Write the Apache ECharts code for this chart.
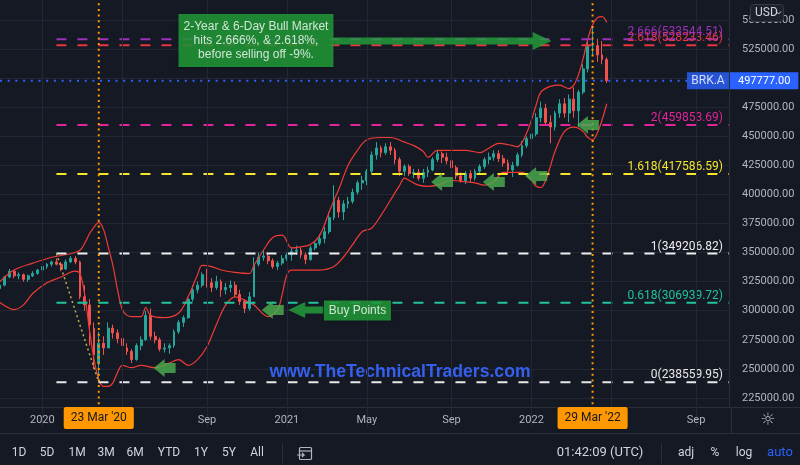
<!DOCTYPE html>
<html><head><meta charset="utf-8">
<script src="https://cdn.jsdelivr.net/npm/echarts@6/dist/echarts.min.js"></script>
<style>html,body{margin:0;padding:0;background:#151924;}#c{width:800px;height:465px;}</style>
</head><body><div id="c"></div>
<script>
// ---- axis categories (weekly, Monday dates) ----
const startMonday = '2019-10-28';
const weekCount = 156;
const monthNames = ['Jan','Feb','Mar','Apr','May','Jun','Jul','Aug','Sep','Oct','Nov','Dec'];
const labelMonths = [0, 4, 8];

// ---- weekly BRK.A candles, values in thousands USD (weeks 0..129) ----
const openK  = [319,322,329,334,330,331,327,330,332,335,338,340,342,340,336,342,345,342,312,305,285,255,272,268,285,281,276,268,265,258,270,275,296,278,275,267,268,270,282,290,294,310,318,322,331,324,320,325,318,320,322,314,308,302,312,340,346,347,343,338,341,345,348,351,352,348,344,354,358,362,368,380,395,385,392,394,402,410,412,420,434,440,436,441,438,430,420,424,418,419,414,419,421,430,435,432,429,423,416,412,418,414,420,424,430,432,435,431,427,421,425,434,442,448,452,466,474,462,458,470,478,470,482,472,488,508,528,528,520,516];
const highK  = [323,330,336,335,333,332,331,334,336,341,341,343,345,342,344,347,347,343,322,310,290,282,278,290,288,284,289,272,267,272,278,300,302,282,277,272,272,284,292,296,312,322,325,333,336,328,330,327,324,326,325,318,310,316,346,350,352,350,345,343,348,350,354,356,354,350,356,360,366,372,385,408,398,395,398,405,412,416,422,437,445,442,444,445,440,432,426,426,422,422,422,424,432,438,437,436,431,425,419,420,421,422,426,432,436,438,438,434,430,428,436,446,450,456,470,480,478,468,472,482,483,486,492,490,512,532,544,534,532,518];
const lowK   = [317,321,328,328,327,325,325,329,331,333,336,338,339,334,335,341,340,310,300,270,250,238.56,262,268,276,272,268,262,255,257,266,274,275,272,265,264,263,268,280,286,293,308,315,320,320,316,318,312,314,316,312,305,298,300,312,338,343,340,336,335,339,343,343,348,345,340,343,352,356,358,366,378,380,378,388,392,400,404,408,418,430,432,434,434,426,416,416,416,414,412,410,415,420,428,427,426,420,413,410,409,410,412,418,422,426,429,428,424,417,415,424,432,440,446,450,462,460,444,455,466,466,462,466,458,486,505,520,514,512,496];
const closeK = [322,329,334,330,331,327,330,332,335,338,340,342,340,336,342,345,342,312,305,288,262,272,268,285,281,276,270,265,258,270,275,296,278,275,267,268,270,282,290,294,310,318,322,331,324,320,325,318,320,322,314,308,302,312,340,346,347,343,338,341,345,348,351,352,348,344,354,358,362,368,380,395,385,392,394,402,410,412,420,434,440,436,441,438,430,420,424,418,419,414,419,421,430,435,432,429,423,416,412,418,414,420,424,430,432,435,431,427,421,425,434,442,448,452,466,474,462,458,470,478,470,482,472,488,508,528,528,520,516,497.777];

// ---- Bollinger bands, read at sample weeks (thousands USD) ----
const upperWeeks = ['2019-10-28','2019-11-18','2019-12-16','2020-01-13','2020-02-10','2020-02-24','2020-03-02','2020-03-09','2020-03-16','2020-03-23','2020-03-30','2020-04-06','2020-04-13','2020-04-20','2020-04-27','2020-05-04','2020-05-11','2020-05-25','2020-06-01','2020-06-08','2020-06-29','2020-07-20','2020-08-03','2020-08-17','2020-08-24','2020-09-07','2020-09-21','2020-10-12','2020-11-02','2020-11-09','2020-11-23','2020-12-07','2020-12-21','2021-01-04','2021-01-18','2021-02-01','2021-02-15','2021-03-01','2021-03-08','2021-03-15','2021-03-29','2021-04-12','2021-04-26','2021-05-17','2021-05-31','2021-06-21','2021-07-05','2021-07-19','2021-07-26','2021-08-09','2021-08-30','2021-09-20','2021-10-11','2021-10-25','2021-11-08','2021-11-29','2021-12-06','2021-12-20','2022-01-03','2022-01-10','2022-01-24','2022-02-07','2022-02-21','2022-02-28','2022-03-07','2022-03-14','2022-03-21','2022-03-28','2022-04-04','2022-04-11','2022-04-18'];
const upperK = [325,335,341,346,349,352,358,366,372,376,370,355,339,318,301,296,295,295,303,296,294,298,312,331,339,338,335,333,332,339,352,363,365,354,355,357,365,385,395,404,425,438,447,449,449,445,442,437,432,438,438,438,436,440,444,442,441,453,477,488,493,494,491,494,503,517,534,546,552,553,548];
const lowerWeeks = ['2019-10-28','2019-11-18','2019-12-02','2019-12-16','2020-01-06','2020-01-27','2020-02-17','2020-02-24','2020-03-02','2020-03-09','2020-03-16','2020-03-23','2020-03-30','2020-04-06','2020-04-13','2020-04-20','2020-04-27','2020-05-11','2020-05-25','2020-06-15','2020-07-06','2020-07-20','2020-08-03','2020-08-17','2020-08-31','2020-09-14','2020-09-28','2020-10-12','2020-10-26','2020-11-09','2020-11-23','2020-11-30','2020-12-14','2020-12-21','2020-12-28','2021-01-04','2021-01-25','2021-02-15','2021-03-08','2021-03-22','2021-04-05','2021-04-19','2021-05-03','2021-05-17','2021-05-31','2021-06-14','2021-06-21','2021-06-28','2021-07-12','2021-07-26','2021-08-09','2021-08-30','2021-09-20','2021-10-04','2021-10-18','2021-11-01','2021-11-15','2021-11-29','2021-12-13','2021-12-27','2022-01-03','2022-01-10','2022-01-17','2022-01-24','2022-01-31','2022-02-14','2022-02-28','2022-03-07','2022-03-14','2022-03-21','2022-03-28','2022-04-04','2022-04-11','2022-04-18'];
const lowerK = [307,301,305,315,324,329,334,332,314,284,258,241,235,235,238,247,253,251,253,251,255,258,253,258,269,288,305,312,309,305,297,295,301,314,331,335,335,335,338,346,357,368,371,382,395,408,414,412,408,407,408,412,411,410,408,411,419,419,419,412,407,406,412,424,437,454,458,457,454,449,447,453,464,478];

// ---- Fibonacci levels ----
const fibRatios = ['0','0.618','1','1.618','2','2.618','2.666'];
const fibPrices = [238559.95,306939.72,349206.82,417586.59,459853.69,528233.46,533544.51];
const fibColors = ['#e8e8e8','#22c39c','#eeeeee','#f7e52c','#e2259a','#e8353f','#9c30bb'];
const fibStartWeek = '2020-01-20';
const lastPrice = 497777;
const symbolName = 'BRK.A';
const crosshairWeeks = ['2020-03-23','2022-03-28'];
const crosshairText = ["23 Mar '20","29 Mar '22"];

// ---- annotations ----
const buyArrowWeeks = ['2020-06-29','2020-12-07','2021-08-16','2021-11-01','2022-01-03','2022-03-21'];
const buyArrowPrices = [250800,300660,410717,410717,415876,459725];

// build categories
const weeks = [];
(function(){const d0=Date.parse(startMonday+'T00:00:00Z');for(let i=0;i<weekCount;i++){weeks.push(new Date(d0+i*7*86400000).toISOString().slice(0,10));}})();
const firstWeek = weeks[0], lastWeek = weeks[weeks.length-1];
function sundayOf(v){return new Date(Date.parse(v+'T00:00:00Z')+6*86400000);}
function isLabelWeek(i){const s=sundayOf(weeks[i]);return s.getUTCDate()<=7 && labelMonths.indexOf(s.getUTCMonth())>=0;}
function labelText(v){const s=sundayOf(v);const m=s.getUTCMonth();return m===0?String(s.getUTCFullYear()):monthNames[m];}

const candleData = openK.map((o,k)=>[o*1000, closeK[k]*1000, lowK[k]*1000, highK[k]*1000]);
const upperData = upperWeeks.map((w,k)=>[w, upperK[k]*1000]);
const lowerData = lowerWeeks.map((w,k)=>[w, lowerK[k]*1000]);

const series = [
  {type:'candlestick',name:'BRK.A',data:candleData,barMaxWidth:2.5,clip:false,z:2,
    itemStyle:{color:'#26a69a',color0:'#ef5350',borderColor:'#26a69a',borderColor0:'#ef5350',borderWidth:1}},
  {type:'line',name:'BB upper',data:upperData,smooth:0.35,connectNulls:true,showSymbol:false,symbol:'none',z:3,
    lineStyle:{color:'#ef3b36',width:1.2}},
  {type:'line',name:'BB lower',data:lowerData,smooth:0.35,connectNulls:true,showSymbol:false,symbol:'none',z:3,
    lineStyle:{color:'#ef3b36',width:1.2}}
];
const hiddenDot = {symbol:'circle',symbolSize:0,showSymbol:true,itemStyle:{color:'rgba(0,0,0,0)'}};

// Fibonacci level lines with their labels at the right end
fibPrices.forEach((p,k)=>{
  series.push(Object.assign({type:'line',name:'fib '+fibRatios[k],z:4,clip:false,silent:true,
    lineStyle:{color:fibColors[k],width:2,type:[10,11]},
    data:[[fibStartWeek,p],{value:[lastWeek,p],label:{show:true,position:[0,0],align:'right',verticalAlign:'bottom',offset:[-6,-1],
      formatter:fibRatios[k]+'('+p.toFixed(2)+')',color:fibColors[k],fontSize:12,fontFamily:'Roboto'}}]}, hiddenDot));
});
// last price line + axis price box
series.push(Object.assign({type:'line',name:'last',z:4,clip:false,silent:true,
  lineStyle:{color:'#2962ff',width:2,type:[2,5.7]},
  data:[[firstWeek,lastPrice],{value:[lastWeek,lastPrice],label:{show:true,position:[0,0],align:'left',verticalAlign:'middle',offset:[1,0],
    formatter:lastPrice.toFixed(2),backgroundColor:'#2962ff',color:'#ffffff',padding:[3,8,3,8],fontSize:11,fontFamily:'Roboto'}}]}, hiddenDot));
// crosshair vertical lines
crosshairWeeks.forEach(w=>series.push({type:'line',name:'cross '+w,z:4,clip:false,silent:true,symbol:'none',
  lineStyle:{color:'#ff9800',width:2,type:[2,3.7]},data:[[w,200000],[w,575000]]}));
// fib trend line (high -> low)
series.push({type:'line',name:'fib trend',z:4,silent:true,symbol:'none',
  lineStyle:{color:'#bba84c',width:1.5,type:[2,3]},data:[[fibStartWeek,fibPrices[2]],[crosshairWeeks[0],fibPrices[0]]]});

// annotations (arrows, callouts, symbol tag) on their own layer
const smallArrow='path://M0,9L11,0L11,4L22,4L22,14L11,14L11,18Z';
const ann = buyArrowWeeks.map((w,k)=>({value:[w,buyArrowPrices[k]],symbol:smallArrow,symbolSize:[22,18],itemStyle:{color:'#4caf50'}}));
ann.push({value:['2021-08-16',531949],symbol:'path://M0,5.5L200,5.5L200,0L219,9L200,18L200,12.5L0,12.5Z',symbolSize:[219,18],itemStyle:{color:'#23a23b'}});
ann.push({value:['2021-01-25',300660],symbol:'path://M0,8L17,0L17,4.5L35,4.5L35,11.5L17,11.5L17,16Z',symbolSize:[35,16],itemStyle:{color:'#23a23b'}});
ann.push({value:['2020-11-09',532378],symbol:'rect',symbolSize:[155,53],symbolOffset:[2,0],itemStyle:{color:'#23a23b',shadowColor:'rgba(0,0,0,0.5)',shadowBlur:3,shadowOffsetY:1},
  label:{show:true,position:'inside',formatter:'2-Year & 6-Day Bull Market\nhits 2.666%, & 2.618%,\nbefore selling off -9%.',color:'#ffffff',fontSize:12,lineHeight:14,fontFamily:'"Liberation Sans", Arial'}});
ann.push({value:['2021-04-12',300232],symbol:'rect',symbolSize:[67,20],itemStyle:{color:'#23a23b',shadowColor:'rgba(0,0,0,0.5)',shadowBlur:3,shadowOffsetY:1},
  label:{show:true,position:'inside',formatter:'Buy Points',color:'#ffffff',fontSize:12,fontFamily:'"Liberation Sans", Arial'}});
ann.push({value:[lastWeek,lastPrice],symbol:'rect',symbolSize:[42,17],symbolOffset:[-21,0],itemStyle:{color:'#2962ff'},
  label:{show:true,position:'inside',formatter:symbolName,color:'#ffffff',fontSize:12,fontFamily:'Roboto'}});
series.push({type:'scatter',name:'annotations',z:10,zlevel:1,clip:false,silent:true,label:{show:false},data:ann});

const bg='#151924', sep='#2a2e39', txt='#d1d4dc';
const tb = [['1D',19],['5D',47],['1M',77],['3M',106],['6M',135],['YTD',169],['1Y',201],['5Y',229],['All',257],['adj',686],['%',715],['log',744]];
const graphics = [
  {type:'rect',shape:{x:0,y:407,width:800,height:58},style:{fill:bg},z:50,silent:true},
  {type:'line',shape:{x1:0,y1:407.5,x2:800,y2:407.5},style:{stroke:sep,lineWidth:1},z:55,silent:true},
  {type:'line',shape:{x1:0,y1:433.5,x2:800,y2:433.5},style:{stroke:sep,lineWidth:1},z:55,silent:true},
  {type:'line',shape:{x1:731.5,y1:407,x2:731.5,y2:433},style:{stroke:sep,lineWidth:1},z:55,silent:true},
  {type:'line',shape:{x1:282.5,y1:443,x2:282.5,y2:463},style:{stroke:sep,lineWidth:1},z:55,silent:true},
  {type:'line',shape:{x1:661.5,y1:443,x2:661.5,y2:463},style:{stroke:sep,lineWidth:1},z:55,silent:true},
  {type:'text',x:600,y:453,style:{text:'01:42:09 (UTC)',font:'13px Roboto',fill:txt,align:'center',verticalAlign:'middle'},z:56,silent:true},
  {type:'text',x:780,y:453,style:{text:'auto',font:'13px Roboto',fill:'#2962ff',align:'center',verticalAlign:'middle'},z:56,silent:true},
  {type:'rect',shape:{x:299.5,y:447.5,width:12,height:12,r:1},style:{fill:'none',stroke:'#b2b5be',lineWidth:1.2},z:56,silent:true},
  {type:'line',shape:{x1:299.5,y1:451,x2:311.5,y2:451},style:{stroke:'#b2b5be',lineWidth:1.2},z:56,silent:true},
  {type:'polyline',shape:{points:[[297,455],[304,455],[302,453],[304,455],[302,457]]},style:{fill:'none',stroke:'#b2b5be',lineWidth:1.2},z:57,silent:true},
  {type:'text',x:768,y:421,style:{text:'\u263C',font:'17px "DejaVu Sans"',fill:'#b2b5be',align:'center',verticalAlign:'middle'},z:56,silent:true},
  {type:'rect',shape:{x:750.5,y:4.5,width:33,height:17,r:3},style:{fill:'#1d212c',stroke:'#363a45',lineWidth:1},z:70,silent:true},
  {type:'text',x:755,y:13,style:{text:'USD',font:'12px Roboto',fill:txt,align:'left',verticalAlign:'middle'},z:71,silent:true},
  {type:'polyline',shape:{points:[[776,11.5],[778.5,14],[781,11.5]]},style:{fill:'none',stroke:txt,lineWidth:1},z:71,silent:true},
  {type:'text',x:400,y:372,style:{text:'www.TheTechnicalTraders.com',font:'bold 17.6px "Liberation Sans", Arial',fill:'#3560ef',align:'center',verticalAlign:'middle'},z:10,silent:true}
];
tb.forEach(t=>graphics.push({type:'text',x:t[1],y:453,style:{text:t[0],font:'12px Roboto',fill:txt,align:'center',verticalAlign:'middle'},z:56,silent:true}));

const chart = echarts.init(document.getElementById('c'), null, {renderer:'canvas'});
chart.setOption({
  backgroundColor:bg,
  animation:false,
  textStyle:{fontFamily:'Roboto'},
  grid:{left:0,top:-9,width:729,height:436,outerBoundsMode:'none',containLabel:false},
  xAxis:[{
    type:'category',data:weeks,boundaryGap:false,position:'bottom',offset:-20,z:60,
    axisLine:{show:false},axisTick:{show:false},
    axisLabel:{interval:(i)=>isLabelWeek(i),formatter:(v)=>labelText(v),color:'#b2b5be',fontSize:11,fontFamily:'Roboto',margin:8,hideOverlap:false},
    splitLine:{show:true,interval:(i)=>isLabelWeek(i),lineStyle:{color:'#232733',width:1}}
  },{
    type:'category',data:weeks,boundaryGap:false,position:'bottom',offset:-20,z:61,
    axisLine:{show:false},axisTick:{show:false},splitLine:{show:false},
    axisLabel:{interval:(i)=>crosshairWeeks.indexOf(weeks[i])>=0,formatter:(v)=>crosshairText[crosshairWeeks.indexOf(v)],
      backgroundColor:'#ff9800',color:'#131722',padding:[5,7,5,7],fontSize:12,fontFamily:'Roboto',margin:0,borderRadius:2,hideOverlap:false}
  }],
  yAxis:{type:'value',position:'right',min:200000,max:575000,interval:25000,
    axisLine:{show:true,lineStyle:{color:sep}},axisTick:{show:false},
    axisLabel:{formatter:(v)=>(v<225000||v>550000)?'':v.toFixed(2),color:'#b2b5be',fontSize:11,fontFamily:'Roboto',margin:13,hideOverlap:false},
    splitLine:{lineStyle:{color:'#232733',width:1}}},
  series:series,
  graphic:graphics
});
</script>
</body></html>
